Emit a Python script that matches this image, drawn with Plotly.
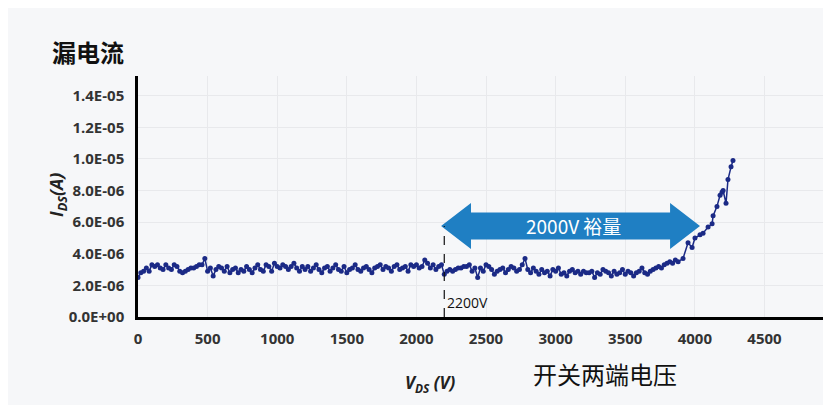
import plotly.graph_objects as go

# sweep voltage (V) and leakage current (x1E-6 A)
volts = [
    0, 20, 40, 60, 80, 100, 120, 140, 160, 180,
    200, 220, 240, 260, 280, 300, 320, 340, 360, 380,
    400, 420, 440, 460, 480, 500, 520, 540, 560, 580,
    600, 620, 640, 660, 680, 700, 720, 740, 760, 780,
    800, 820, 840, 860, 880, 900, 920, 940, 960, 980,
    1000, 1020, 1040, 1060, 1080, 1100, 1120, 1140, 1160, 1180,
    1200, 1220, 1240, 1260, 1280, 1300, 1320, 1340, 1360, 1380,
    1400, 1420, 1440, 1460, 1480, 1500, 1520, 1540, 1560, 1580,
    1600, 1620, 1640, 1660, 1680, 1700, 1720, 1740, 1760, 1780,
    1800, 1820, 1840, 1860, 1880, 1900, 1920, 1940, 1960, 1980,
    2000, 2020, 2040, 2060, 2080, 2100, 2120, 2140, 2160, 2180,
    2200, 2220, 2240, 2260, 2280, 2300, 2320, 2340, 2360, 2380,
    2400, 2420, 2440, 2460, 2480, 2500, 2520, 2540, 2560, 2580,
    2600, 2620, 2640, 2660, 2680, 2700, 2720, 2740, 2760, 2780,
    2800, 2820, 2840, 2860, 2880, 2900, 2920, 2940, 2960, 2980,
    3000, 3020, 3040, 3060, 3080, 3100, 3120, 3140, 3160, 3180,
    3200, 3220, 3240, 3260, 3280, 3300, 3320, 3340, 3360, 3380,
    3400, 3420, 3440, 3460, 3480, 3500, 3520, 3540, 3560, 3580,
    3600, 3620, 3640, 3660, 3680, 3700, 3720, 3740, 3760, 3780,
    3800, 3820, 3840, 3860, 3880,
    3915, 3951, 3980, 4001, 4037, 4059, 4095, 4124, 4131, 4159,
    4181, 4195, 4203, 4224, 4238, 4260, 4274,
]
leak = [
    2.5, 2.8, 2.9, 3.1, 2.9, 3.3, 3.2, 3.3, 3.1, 3.0,
    3.3, 3.1, 3.0, 3.3, 3.2, 2.9, 2.8, 2.9, 3.0, 3.1,
    3.1, 3.2, 3.3, 3.3, 3.7, 2.9, 3.1, 2.6, 3.0, 3.2,
    3.1, 2.9, 3.2, 2.8, 3.0, 3.1, 2.8, 3.0, 2.9, 3.2,
    3.0, 2.8, 3.1, 3.3, 3.0, 2.9, 3.3, 3.2, 2.9, 3.4,
    3.2, 3.1, 3.3, 3.2, 3.0, 3.2, 3.4, 3.1, 2.9, 3.2,
    3.0, 3.2, 2.9, 3.1, 3.3, 3.0, 2.8, 3.1, 3.2, 2.9,
    3.1, 3.3, 3.0, 2.9, 3.2, 2.8, 3.0, 3.1, 3.3, 3.0,
    2.9, 3.1, 3.2, 3.0, 2.8, 3.1, 3.2, 3.3, 3.0, 3.2,
    3.1, 2.9, 3.2, 3.3, 3.0, 3.1, 3.2, 2.9, 3.3, 3.2,
    3.3, 3.1, 3.2, 3.6, 3.4, 3.1, 3.3, 3.0, 3.2, 3.3,
    2.7, 2.9, 3.0, 2.9, 3.0, 3.1, 3.1, 3.2, 3.2, 3.3,
    2.9, 3.1, 2.5, 3.1, 2.9, 3.3, 3.2, 3.0, 2.7, 2.9,
    3.0, 3.1, 2.8, 3.0, 3.2, 3.1, 2.9, 3.0, 3.3, 3.7,
    3.0, 2.8, 3.1, 2.9, 2.7, 3.0, 2.8, 2.9, 2.6, 3.0,
    2.9, 3.1, 2.7, 2.8, 2.6, 2.9, 3.0, 2.8, 2.9, 2.7,
    2.9, 2.8, 2.8, 2.9, 2.5, 2.8, 2.7, 3.0, 2.9, 2.8,
    2.6, 2.9, 2.7, 2.8, 3.0, 2.7, 2.9, 2.8, 2.6, 2.8,
    2.9, 3.1, 2.8, 2.7, 2.9, 3.0, 3.1, 3.2, 3.1, 3.3,
    3.4, 3.5, 3.4, 3.6, 3.5,
    3.7, 4.7, 4.4, 5.0, 5.2, 5.3, 5.7, 5.9, 6.4, 7.0,
    7.7, 7.9, 8.0, 7.2, 8.7, 9.5, 9.9,
]

x_ticks = [0, 500, 1000, 1500, 2000, 2500, 3000, 3500, 4000, 4500]
y_ticks = [0, 2e-6, 4e-6, 6e-6, 8e-6, 1e-5, 1.2e-5, 1.4e-5]
y_labels = ["0.0E+00", "2.0E-06", "4.0E-06", "6.0E-06", "8.0E-06",
            "1.0E-05", "1.2E-05", "1.4E-05"]

breakdown_v = 2200
margin_text = "2000V 裕量"

navy = "#1b2a86"
blue = "#1f7fc3"
cjk = "Noto Sans CJK SC"
latin = "Open Sans"

fig = go.Figure()
fig.add_trace(go.Scatter(
    x=volts, y=[v * 1e-6 for v in leak],
    mode="lines+markers",
    line=dict(color=navy, width=1.5),
    marker=dict(color=navy, size=5),
    showlegend=False,
))

# double arrow for the voltage margin (data coords)
ay = 5.76e-6
left, right = 2177, 4037
head = 215
sh, hh = 0.86e-6, 1.45e-6
path = (f"M {left},{ay} L {left+head},{ay+hh} L {left+head},{ay+sh} "
        f"L {right-head},{ay+sh} L {right-head},{ay+hh} L {right},{ay} "
        f"L {right-head},{ay-hh} L {right-head},{ay-sh} L {left+head},{ay-sh} "
        f"L {left+head},{ay-hh} Z")
fig.add_shape(type="path", path=path, xref="x", yref="y",
              fillcolor=blue, line=dict(width=0))
fig.add_shape(type="line", x0=breakdown_v, x1=breakdown_v, y0=0, y1=ay,
              xref="x", yref="y", line=dict(color="#111", width=1.2, dash="dash"))

fig.add_annotation(x=(left + right) / 2 + 20, y=ay, xref="x", yref="y",
                   text=margin_text, showarrow=False,
                   font=dict(family=cjk, size=19, color="white"))
fig.add_annotation(x=breakdown_v, y=0.9e-6, xref="x", yref="y", xanchor="left",
                   xshift=1, text=f"{breakdown_v}V", showarrow=False,
                   font=dict(family=latin, size=14, color="#111"))

fig.add_annotation(x=0, y=1, xref="paper", yref="paper", xanchor="left",
                   yanchor="middle", xshift=-88, yshift=25, text="<b>漏电流</b>",
                   showarrow=False, font=dict(family=cjk, size=24, color="#111"))
fig.add_annotation(x=0, y=0.5, xref="paper", yref="paper", xshift=-96,
                   yshift=1, textangle=-90,
                   text="<b><i>I<sub>DS</sub>(A)</i></b>", showarrow=False,
                   font=dict(family=latin, size=18, color="#222"))
fig.add_annotation(x=2098, y=0, xref="x", yref="paper", yanchor="middle",
                   yshift=-66, text="<b><i>V<sub>DS</sub> (V)</i></b>",
                   showarrow=False,
                   font=dict(family=latin, size=17, color="#222"))
fig.add_annotation(x=3355, y=0, xref="x", yref="paper", yanchor="middle",
                   yshift=-56, text="开关两端电压", showarrow=False,
                   font=dict(family=cjk, size=24, color="#111"))

fig.update_xaxes(
    range=[0, 4978], tickvals=x_ticks, ticks="", ticklabelstandoff=6,
    showline=True, linecolor="#000", linewidth=3,
    showgrid=True, gridcolor="#e8e9ec", zeroline=False,
    tickfont=dict(family=latin, size=15, color="#333", weight="bold"),
)
fig.update_yaxes(
    range=[0, 1.525e-5], tickvals=y_ticks, ticktext=y_labels, ticks="",
    ticklabelstandoff=8,
    showline=True, linecolor="#000", linewidth=2.5,
    showgrid=True, gridcolor="#e8e9ec", zeroline=False,
    tickfont=dict(family=latin, size=15, color="#333", weight="bold"),
)
# the page adds an 8px body margin, so the figure is sized to fit inside it
fig.update_layout(
    width=823, height=397,
    margin=dict(l=130, r=0, t=68, b=88),
    paper_bgcolor="#f6f7f9", plot_bgcolor="#f6f7f9",
)

fig.write_html("out.html")
